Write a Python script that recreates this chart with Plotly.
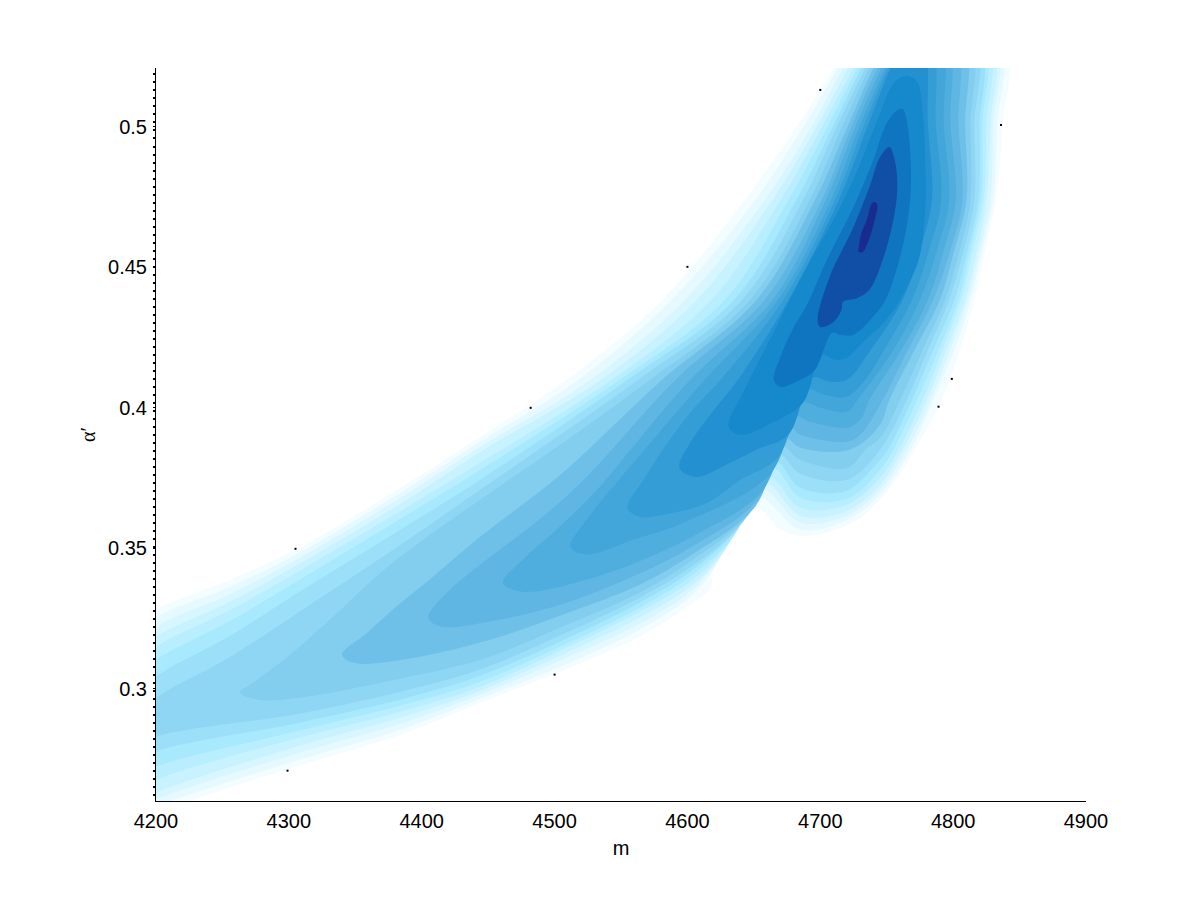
import plotly.graph_objects as go

# Contour outlines, outermost level first.
# Each one is a list of (m, alpha') pairs walked around the filled region.
level_00 = [(4180,.3201),(4200,.3281),(4256,.3388),(4308,.3502),(4384,.3715),(4444,.3897),(4509,.4100),(4581,.4384),(4643,.4740),(4683,.5007),(4710,.5210),(4721,.53),
            (4838,.53),(4837,.5007),(4832,.4740),(4824,.4562),(4816,.4384),(4805,.4206),(4789,.4004),(4771,.3851),(4762,.3779),(4745,.3673),(4728,.3601),(4707,.3559),(4687,.3544),(4670,.3566),(4651,.3648),
            (4636,.3555),(4618,.3434),(4618,.3363),(4602,.3299),(4564,.3185),(4504,.3060),(4444,.2950),(4384,.2836),(4308,.2726),(4226,.2601),(4200,.2552),(4180,.2500)]
level_01 = [(4180,.3173),(4200,.3253),(4256,.3363),(4308,.3484),(4384,.3698),(4444,.3879),(4518,.41),(4588,.4384),(4651,.474),(4688,.5007),(4713,.521),(4724,.53),
            (4834,.53),(4833,.5007),(4830,.474),(4822,.4562),(4813,.4384),(4801,.4206),(4785,.4028),(4768,.3851),(4745,.3690),(4720,.3601),(4685,.3566),(4653,.3680),
            (4618.5,.3416),(4602,.3327),(4564,.3210),(4504,.3078),(4444,.2964),(4384,.2854),(4308,.2747),(4200,.2580),(4180,.2530)]
level_02 = [(4180,.3141),(4200,.3221),(4256,.3338),(4308,.3466),(4384,.3680),(4444,.3861),(4527,.41),(4598,.4384),(4658,.474),(4694,.5007),(4717,.521),(4728,.53),
            (4831,.53),(4830,.5007),(4828,.474),(4820,.4562),(4811,.4384),(4798,.4206),(4783,.4028),(4765,.3851),(4745,.3708),(4720,.3616),(4685,.3591),(4656,.3708),
            (4622,.3452),(4602,.3345),(4564,.3231),(4504,.3100),(4444,.2979),(4384,.2875),(4308,.2772),(4200,.2605),(4180,.2555)]
level_03 = [(4180,.3105),(4200,.3185),(4256,.3310),(4308,.3445),(4384,.3658),(4444,.3843),(4535,.41),(4607,.4384),(4664,.474),(4698,.5007),(4721,.521),(4732,.53),
            (4828,.53),(4828,.5007),(4825,.474),(4818,.4562),(4809,.4384),(4795,.4206),(4780,.4028),(4762,.3851),(4745,.3726),(4720,.3633),(4685,.3616),(4658,.3733),
            (4626,.3477),(4602,.3363),(4564,.3253),(4504,.3117),(4444,.2993),(4384,.2897),(4308,.2797),(4200,.2630),(4180,.2580)]
level_04 = [(4180,.3069),(4200,.3149),(4256,.3281),(4308,.3420),(4384,.3633),(4444,.3804),(4543,.41),(4618,.4384),(4670,.474),(4702,.5007),(4725,.521),(4736,.53),
            (4825,.53),(4825,.5007),(4823,.474),(4815,.4562),(4806,.4384),(4792,.4206),(4777,.4028),(4759,.3851),(4745,.3751),(4720,.3655),(4685,.3644),(4661,.3754),
            (4630,.3509),(4602,.3381),(4564,.3274),(4504,.3135),(4444,.3007),(4384,.2918),(4308,.2826),(4200,.2676),(4180,.2626)]
level_05 = [(4180,.3023),(4200,.3103),(4256,.3242),(4308,.3388),(4384,.3605),(4444,.3779),(4549,.41),(4628,.4384),(4676,.474),(4706,.5007),(4728,.521),(4739,.53),
            (4822,.53),(4822,.5007),(4821,.474),(4813,.4562),(4804,.4384),(4789,.4206),(4773,.4028),(4755,.3851),(4745,.3779),(4720,.3676),(4685,.3680),(4664,.3786),
            (4634,.3537),(4602,.3399),(4564,.3288),(4504,.3149),(4444,.3025),(4384,.2940),(4308,.2851),(4200,.2722),(4180,.2672)]
level_06 = [(4180,.2963),(4200,.3043),(4256,.3189),(4308,.3345),(4384,.3566),(4444,.3744),(4555,.41),(4635,.4384),(4682,.474),(4710,.5007),(4731,.521),(4742,.53),
            (4819,.53),(4820,.5007),(4819,.474),(4811,.4562),(4801,.4384),(4785,.4206),(4769,.4028),(4751,.3851),(4745,.3815),(4720,.3705),(4685,.3715),(4666,.3808),
            (4637,.3566),(4602,.3416),(4564,.3306),(4504,.3167),(4444,.3046),(4384,.2961),(4308,.2879),(4200,.2776),(4180,.2726)]
level_07 = [(4180,.2888),(4200,.2968),(4256,.3114),(4308,.3274),(4384,.3512),(4444,.3708),(4563,.41),(4641,.4384),(4687,.474),(4713,.5007),(4734,.521),(4745,.53),
            (4816,.53),(4816,.5007),(4816,.474),(4808,.4562),(4797,.4384),(4781,.4206),(4765,.4028),(4745,.3851),(4720,.3744),(4685,.3765),(4668,.3836),
            (4642,.3594),(4602,.3431),(4564,.3324),(4504,.3189),(4444,.3068),(4384,.2989),(4308,.2911),(4200,.2829),(4180,.2780)]
level_08 = [(4263,.2986),(4273,.3021),(4301,.3121),(4331,.3246),(4369,.3413),(4401,.3530),(4444,.3673),(4504,.3868),(4572,.41),(4647,.4384),(4692,.474),(4717,.5007),(4737,.521),(4748,.53),
            (4812,.53),(4813,.5007),(4813,.474),(4805,.4562),(4794,.4384),(4777,.4206),(4760,.4028),(4745,.3893),(4734,.3851),(4720,.3786),(4685,.3815),(4671,.3861),
            (4646,.3619),(4602,.3452),(4564,.3342),(4504,.3217),(4444,.3103),(4384,.3036),(4308,.2968),(4276,.2961)]
level_09 = [(4340,.3121),(4359,.3199),(4378,.3281),(4404,.3381),(4444,.3541),(4504,.3760),(4581,.41),(4652,.4384),(4696,.474),(4721,.5007),(4740,.521),(4751,.53),
            (4807,.53),(4809,.5007),(4810,.474),(4801,.4562),(4790,.4384),(4771,.4206),(4752,.4028),(4745,.3940),(4722,.3851),(4685,.3858),(4673,.3893),
            (4651,.3648),(4602,.3473),(4564,.3370),(4504,.3260),(4444,.3164),(4376,.3096),(4348,.3093)]
level_10 = [(4405,.3253),(4419,.3342),(4444,.3441),(4491,.3612),(4524,.3754),(4591,.41),(4658,.4384),(4701,.474),(4724,.5007),(4743,.521),(4754,.53),
            (4801,.53),(4804,.5007),(4807,.474),(4798,.4562),(4785,.4384),(4766,.4206),(4745,.4011),(4730,.3904),(4720,.3879),(4685,.3904),(4677,.3929),
            (4653,.3673),(4602,.3502),(4559,.3399),(4509,.3306),(4459,.3246),(4414,.3221)]
level_11 = [(4461,.3377),(4476,.3459),(4504,.3577),(4534,.3719),(4559,.3861),(4602,.41),(4664,.4384),(4704,.474),(4727,.5007),(4746,.521),(4757,.53),
            (4795,.53),(4798,.5007),(4802,.474),(4793,.4562),(4781,.4384),(4761,.4206),(4737,.4028),(4730,.3957),(4720,.3929),(4692,.3950),(4681,.3968),
            (4656,.3701),(4609,.3555),(4572,.3470),(4524,.3388),(4476,.3345)]
level_12 = [(4512,.3505),(4524,.3601),(4544,.3719),(4572,.3875),(4613,.41),(4668,.4384),(4708,.474),(4730,.5007),(4749,.521),(4760,.53),
            (4790,.53),(4793,.5007),(4797,.474),(4788,.4562),(4775,.4384),(4755,.4206),(4728,.4028),(4720,.3986),(4700,.4000),(4686,.4018),
            (4662,.3762),(4597,.3591),(4559,.3530),(4524,.3477)]
level_13 = [(4555,.3644),(4567,.3744),(4585,.3875),(4604,.3993),(4625,.41),(4672,.4384),(4711,.474),(4733,.5007),(4751,.521),(4762,.53),
            (4783,.53),(4787,.5007),(4791,.474),(4782,.4562),(4769,.4384),(4748,.4206),(4735,.4107),(4720,.4039),(4704,.4046),(4690,.4064),
            (4668,.3822),(4640,.3744),(4615,.3662),(4589,.3626),(4564,.3612)]
level_14 = [(4594,.3786),(4602,.3875),(4622,.4004),(4638,.41),(4676,.4384),(4714,.474),(4736,.5007),(4753,.521),(4764,.53),
            (4777,.53),(4781,.5007),(4784,.474),(4775,.4562),(4762,.4384),(4738,.4206),(4720,.4100),(4707,.4093),(4694,.4107),
            (4676,.3904),(4652,.3851),(4632,.3804),(4607,.3754)]
level_15 = [(4631,.3932),(4643,.4064),(4662,.4242),(4677,.4384),(4694,.4537),(4712,.4687),(4728,.4847),(4743,.5025),(4756,.5160),(4766,.5181),(4773,.5160),(4777,.5060),(4779,.4883),(4779,.4705),(4774,.4527),
            (4760,.4384),(4749,.4310),(4730,.4224),(4720,.4178),(4711,.4171),(4701,.4189),
            (4687,.4018),(4664,.3947),(4640,.3904)]
level_16 = [(4665,.41),(4670,.4181),(4679,.4278),(4690,.4367),(4705,.4527),(4725,.4715),(4740,.4883),(4750,.5014),(4758,.5060),(4762,.5064),(4765,.5025),(4768,.4883),(4768,.4765),(4765,.4644),(4758,.4502),
            (4749,.4384),(4741,.4331),(4725,.4260),(4715,.4260),(4709,.4267),
            (4696,.4135),(4685,.4100),(4670,.4075)]
level_17 = [(4698,.4313),(4707,.4466),(4725,.4644),(4737,.4786),(4745,.4893),(4752,.4929),(4756,.4883),(4758,.4786),(4755,.4669),(4747,.4527),(4737,.4420),(4728,.4391),(4717,.4377),(4716,.4349),(4710,.4306),(4700,.4288)]
level_18 = [(4729,.4555),(4732,.4555),(4736,.4591),(4741,.4669),(4743,.4722),(4741,.4733),(4739,.4729),(4735,.4669),(4731,.4623),(4729,.4573)]

levels = [level_00, level_01, level_02, level_03, level_04, level_05, level_06, level_07, level_08, level_09,
          level_10, level_11, level_12, level_13, level_14, level_15, level_16, level_17, level_18]

level_colors = ["#f3fcff", "#e6f9ff", "#d8f6ff", "#c8f2ff", "#b8eeff", "#a8e9fe", "#9cdff9", "#8fd6f4", "#83cdee", "#6fc0e8",
                "#5fb6e3", "#50aedf", "#42a6db", "#349dd6", "#2391d1", "#1688cc", "#0f75c0", "#114fa6", "#1a2b90"]

# stray black specks just outside the outer contour
speck_m = [4700, 4836, 4600, 4482, 4305, 4299, 4500, 4799, 4789]
speck_a = [.5132, .5007, .4502, .4000, .3498, .2708, .3050, .4103, .4004]

x_ticks = [4200, 4300, 4400, 4500, 4600, 4700, 4800, 4900]
y_ticks = [0.3, 0.35, 0.4, 0.45, 0.5]
y_tick_labels = ["0.3", "0.35", "0.4", "0.45", "0.5"]

fig = go.Figure()

for outline, color in zip(levels, level_colors):
    # start the path at its highest point, the seam of the spline then stays out of sight
    top = max(range(len(outline)), key=lambda i: outline[i][1])
    path = outline[top:] + outline[:top + 1]
    fig.add_trace(go.Scatter(
        x=[p[0] for p in path],
        y=[p[1] for p in path],
        mode="lines",
        line=dict(width=0, shape="spline", smoothing=1.0),
        fill="toself",
        fillcolor=color,
        hoverinfo="skip",
        showlegend=False,
    ))

fig.add_trace(go.Scatter(
    x=speck_m,
    y=speck_a,
    mode="markers",
    marker=dict(symbol="square", size=2, color="black"),
    hoverinfo="skip",
    showlegend=False,
))

tick_font = dict(family="Liberation Sans", size=20, color="black")

# the page body adds 8px around the figure, so it is sized and placed with that in mind
fig.update_layout(
    width=1192,
    height=892,
    margin=dict(l=148, r=114, t=60, b=99),
    paper_bgcolor="white",
    plot_bgcolor="white",
    xaxis=dict(
        range=[4200, 4900],
        tickvals=x_ticks,
        showgrid=False,
        zeroline=False,
        showline=True,
        linecolor="black",
        linewidth=1,
        ticks="",
        ticklabelstandoff=2,
        tickfont=tick_font,
        title=dict(text="m", font=dict(family="Liberation Sans", size=20, color="black"), standoff=9),
    ),
    yaxis=dict(
        range=[0.26, 0.521],
        tickvals=y_ticks,
        ticktext=y_tick_labels,
        showgrid=False,
        zeroline=False,
        showline=True,
        linecolor="black",
        linewidth=1,
        ticks="outside",
        ticklen=2,
        tickcolor="black",
        ticklabelstandoff=2,
        tickfont=tick_font,
        minor=dict(dtick=0.00285, ticks="outside", ticklen=2, tickcolor="black", tickwidth=2),
        title=dict(text="α′", font=dict(family="Liberation Serif", size=20, color="black"), standoff=7),
    ),
)

fig.write_html("out.html")
